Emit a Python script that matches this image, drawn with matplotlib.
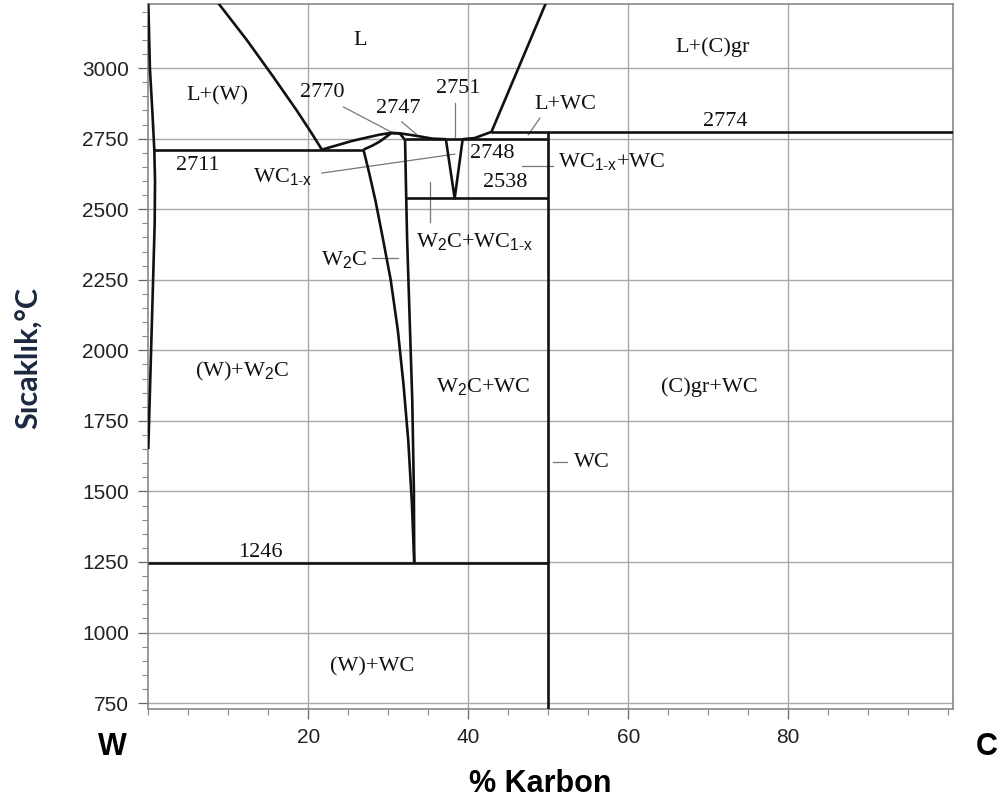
import matplotlib
matplotlib.use("Agg")
import matplotlib.pyplot as plt
from matplotlib.ticker import MultipleLocator

plt.rcParams['mathtext.fontset'] = 'custom'
plt.rcParams['mathtext.rm'] = 'Liberation Serif'
plt.rcParams['mathtext.sf'] = 'Liberation Sans'
plt.rcParams['mathtext.it'] = 'Liberation Serif:italic'

# ---------------- data ----------------
# (W) solidus / solvus
w_solvus_x = [0.0, 0.2, 0.5, 0.75, 0.84, 0.8, 0.6, 0.35, 0.15, 0.0]
w_solvus_y = [3230, 3000, 2850, 2711, 2600, 2450, 2250, 2000, 1800, 1650]
# liquidus on W side
liq_w_x = [8.75, 12.3, 15.6, 18.55, 20.4, 21.7]
liq_w_y = [3230, 3100, 2970, 2850, 2770, 2711]
# liquidus over W2C up to WC1-x
liq_mid_x = [21.7, 25.5, 28.9, 30.3, 31.4, 33.5, 35.5, 37.2]
liq_mid_y = [2711, 2742, 2764, 2770, 2769, 2760, 2750, 2748]
# liquidus on C side
liq_c_x = [39.3, 40.8, 42.9, 49.7]
liq_c_y = [2748, 2752, 2774, 3230]
# W2C phase field
w2c_left_x = [26.9, 27.6, 28.4, 29.3, 30.3, 31.2, 31.9, 32.5, 32.95, 33.25]
w2c_left_y = [2711, 2630, 2530, 2400, 2250, 2070, 1880, 1680, 1460, 1246]
w2c_cap_x = [26.9, 28.0, 28.95, 30.4, 31.45, 32.1]
w2c_cap_y = [2711, 2725, 2740, 2770, 2768, 2745]
w2c_right_x = [32.1, 32.2, 32.35, 32.6, 33.0, 33.2, 33.25]
w2c_right_y = [2745, 2600, 2400, 2177, 1823, 1504, 1246]
# WC1-x field (V shape)
wc1x_x = [37.2, 38.3, 39.3]
wc1x_y = [2748, 2538, 2748]
# isotherms: (x_start, x_end, T)
isotherms = [(0.75, 26.9, 2711), (32.1, 50.0, 2748), (32.25, 50.0, 2538),
             (42.9, 100.6, 2774), (0.0, 50.0, 1246)]
# WC line
wc_x = 50.0
wc_top = 2774

SUB1X = "$_{\\mathsf{1}\\text{-}\\mathsf{x}}$"
SUB2 = "$_{\\mathsf{2}}$"
# labels: (text, x, y)
labels = [
    ("L", 26.5, 3099), ("L+(W)", 8.6, 2901), ("2770", 21.7, 2915),
    ("2747", 31.2, 2858), ("2751", 38.7, 2929), ("L+WC", 52.1, 2872),
    ("L+(C)gr", 70.5, 3074), ("2774", 72.1, 2812), ("2711", 6.2, 2656),
    ("WC" + SUB1X, 16.8, 2615), ("2748", 43.0, 2699),
    ("WC" + SUB1X + "+WC", 57.9, 2668), ("2538", 44.6, 2593),
    ("W" + SUB2 + "C+WC" + SUB1X, 40.8, 2385),
    ("W" + SUB2 + "C", 24.4, 2321), ("(W)+W" + SUB2 + "C", 11.7, 1925),
    ("W" + SUB2 + "C+WC", 41.8, 1870), ("(C)gr+WC", 70.2, 1870),
    ("WC", 55.4, 1604), ("1246", 14.0, 1285), ("(W)+WC", 28.0, 878),
]
# leader lines: (x0, y0, x1, y1)
leaders = [
    (24.4, 2862, 30.6, 2770), (31.7, 2809, 33.5, 2766), (38.3, 2876, 38.3, 2755),
    (21.7, 2628, 38.3, 2695), (46.7, 2653, 50.6, 2653), (48.96, 2823, 47.5, 2763),
    (35.2, 2596, 35.2, 2454), (28.0, 2327, 31.2, 2327), (50.6, 1604, 52.4, 1604),
]

xticks = [20, 40, 60, 80]
yticks = [750, 1000, 1250, 1500, 1750, 2000, 2250, 2500, 2750, 3000]

# ---------------- figure ----------------
fig = plt.figure(figsize=(10.06, 8.05), dpi=100)
ax = fig.add_axes([148.3/1006, 1 - 709/805, (953 - 148.3)/1006, (709 - 4)/805])
ax.set_xlim(0, 100.6)
ax.set_ylim(729, 3227)

grid_c = '#a8a8a8'
for xv in xticks:
    ax.axvline(xv, color=grid_c, lw=1.0, zorder=0)
for yv in yticks:
    ax.axhline(yv, color=grid_c, lw=1.0, zorder=0)

lc = '#111111'
lw = 1.9
kw = dict(color=lc, lw=lw, solid_capstyle='butt', solid_joinstyle='round', zorder=3)
ax.plot(w_solvus_x, w_solvus_y, **kw)
ax.plot(liq_w_x, liq_w_y, **kw)
ax.plot(liq_mid_x, liq_mid_y, **kw)
ax.plot(liq_c_x, liq_c_y, **kw)
ax.plot(w2c_left_x, w2c_left_y, **kw)
ax.plot(w2c_cap_x, w2c_cap_y, **kw)
ax.plot(w2c_right_x, w2c_right_y, **kw)
ax.plot(wc1x_x, wc1x_y, **kw)
for x0, x1, t in isotherms:
    ax.plot([x0, x1], [t, t], **kw)
ax.plot([wc_x, wc_x], [729, wc_top], **kw)

for x0, y0, x1, y1 in leaders:
    ax.plot([x0, x1], [y0, y1], color='#777777', lw=0.9, zorder=2)

for t, x, y in labels:
    ax.text(x, y, t, fontsize=16, family='Liberation Serif', ha='center', va='center',
            color='#111111', zorder=4)

ax.set_xticks(xticks)
ax.set_yticks(yticks)
ax.xaxis.set_minor_locator(MultipleLocator(5))
ax.yaxis.set_minor_locator(MultipleLocator(50))
ax.tick_params(which='major', direction='out', length=7, width=0.9, color='#666666',
               labelsize=15, pad=7)
ax.tick_params(which='minor', direction='out', length=4, width=0.8, color='#888888')
for lab in ax.get_xticklabels() + ax.get_yticklabels():
    lab.set_family('Liberation Sans')
    lab.set_color('#222222')
for sp in ax.spines.values():
    sp.set_color('#888888')
    sp.set_linewidth(1.2)

fig.text(112/1006, 1 - 747/805, "W", fontsize=22, fontweight='bold',
         family='Liberation Sans', ha='center', va='center')
fig.text(987/1006, 1 - 747/805, "C", fontsize=22, fontweight='bold',
         family='Liberation Sans', ha='center', va='center')
fig.text(540/1006, 1 - 784/805, "% Karbon", fontsize=22, fontweight='bold',
         family='Liberation Sans', ha='center', va='center')
fig.text(28/1006, 1 - 358/805, "Sıcaklık,°C", fontsize=22, fontweight='bold',
         family='Lato', rotation=90, ha='center', va='center', color='#1c2740')

fig.savefig("out.png", dpi=100)
